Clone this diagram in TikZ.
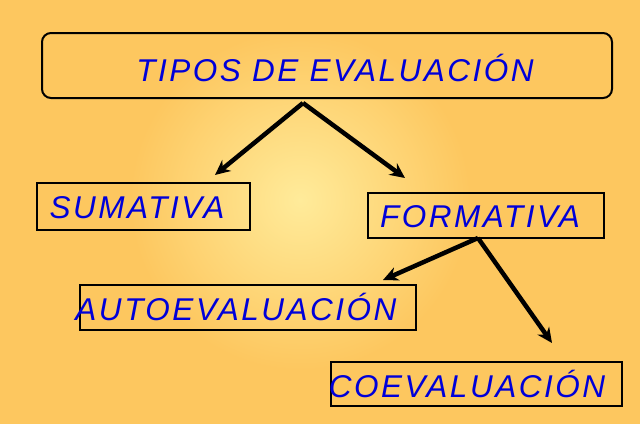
\documentclass[tikz,border=0pt]{standalone}
\usepackage{fontspec}
\usetikzlibrary{arrows.meta}
\setmainfont{Liberation Sans}[LetterSpace=8]
\begin{document}
\begin{tikzpicture}[x=1pt,y=-1pt,
  lbl/.style={font=\itshape\fontsize{31.5}{34}\selectfont, text=blue!85!black},
  box/.style={draw=black, line width=2pt},
  arr/.style={-{Stealth[length=15pt,width=14pt]}, line width=4.5pt}]
\definecolor{bgout}{HTML}{FDC75F}
\definecolor{bgin}{HTML}{FFEB9A}
\useasboundingbox (0,0) rectangle (640,424);
\fill[bgout] (0,0) rectangle (640,424);
\shade[inner color=bgin, outer color=bgout, draw=none] (300,200) circle (170);
\draw[box, rounded corners=9pt] (42,33) rectangle (612,98);
\node[lbl] (t) at (335,68) {TIPOS DE EVALUACIÓN};
\draw[box] (37,183) rectangle (250,230);
\node[lbl] (s) at (137,208) {SUMATIVA};
\draw[box] (368,193) rectangle (604,238);
\node[lbl] (f) at (480,217) {FORMATIVA};
\draw[box] (80,285) rectangle (416,330);
\node[lbl] (a) at (236,307) {AUTOEVALUACIÓN};
\draw[box] (331,362) rectangle (622,406);
\node[lbl] (c) at (467,384) {COEVALUACIÓN};
\coordinate (t0) at (303,103);
\coordinate (f0) at (478,238);
\coordinate (s1) at (215,175);
\coordinate (f1) at (405,178);
\coordinate (a1) at (383,280);
\coordinate (c1) at (552,343);
\draw[arr] (t0) -- (s1);
\draw[arr] (t0) -- (f1);
\draw[arr] (f0) -- (a1);
\draw[arr] (f0) -- (c1);
\end{tikzpicture}
\end{document}
